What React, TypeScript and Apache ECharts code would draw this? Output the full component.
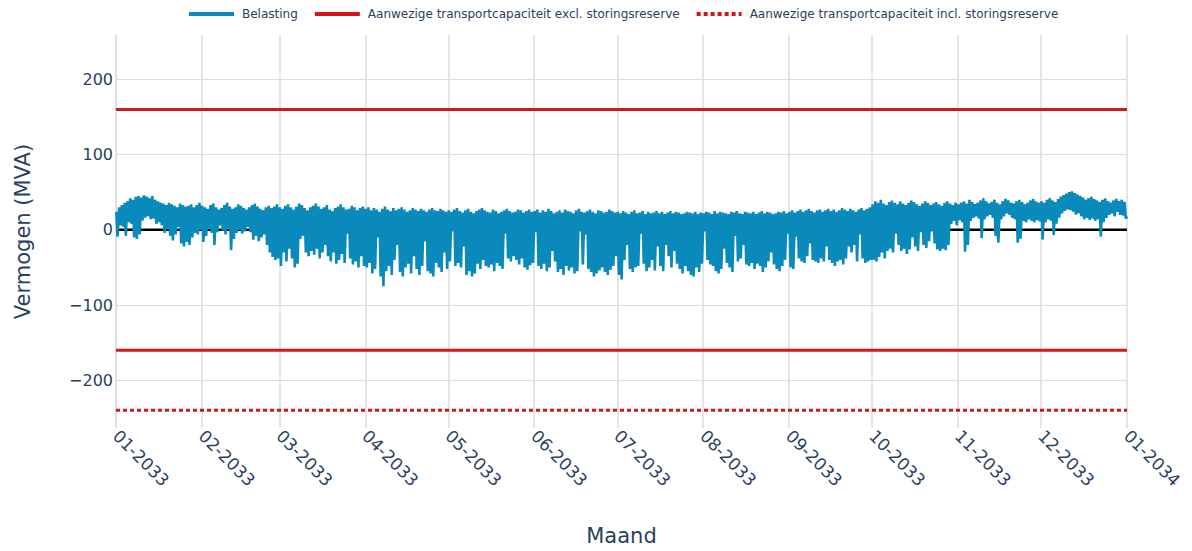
import React, { useEffect, useRef } from "react";
import * as echarts from "echarts";

// Daily maximum / minimum of the load (MVA)
const janMax = [24, 30, 33, 36, 38, 42, 40, 44, 45, 43, 46, 44, 42, 45, 40, 38, 36, 35, 33, 36, 34, 32, 30, 35, 33, 31, 32, 34, 30, 33, 36];
const janMin = [-9, 6, 4, -8, 10, 8, -10, -12, -6, 12, 16, 18, 14, 15, 8, 10, 6, -4, 2, -8, -14, -6, 4, -18, -22, -16, -20, -10, -4, -6, 0];
const febMax = [32, 30, 28, 33, 35, 30, 27, 29, 33, 36, 31, 28, 30, 34, 32, 29, 27, 30, 33, 35, 31, 28, 26, 30, 32, 29, 31, 34];
const febMin = [-16, -8, 2, -4, -20, -3, 6, -1, -6, 2, -27, -12, -4, 0, -5, -2, 4, -3, -13, -8, -15, -10, -6, -20, -30, -36, -40, -38];
const marMax = [30, 28, 32, 34, 30, 27, 31, 35, 33, 29, 26, 30, 32, 35, 31, 28, 30, 33, 27, 25, 29, 31, 34, 30, 27, 28, 32, 30, 26, 29, 31];
const marMin = [-48, -30, -42, -25, -38, -50, -45, -12, -8, -30, -35, -28, -33, -25, -38, -30, -20, -35, -42, -30, -45, -40, -32, -44, -5, -38, -46, -42, -50, -35, -48];
const aprMax = [28, 30, 26, 29, 27, 24, 28, 31, 27, 25, 29, 26, 28, 30, 27, 24, 26, 29, 27, 25, 28, 26, 24, 27, 29, 26, 25, 28, 26, 24];
const aprMin = [-50, -44, -58, -52, -10, -62, -75, -55, -48, -60, -40, -20, -56, -62, -50, -45, -58, -35, -52, -60, -48, -15, -55, -58, -62, -44, -50, -56, -30, -52];
const mayMax = [26, 24, 27, 29, 25, 23, 26, 28, 24, 22, 25, 27, 29, 26, 24, 23, 27, 25, 22, 24, 26, 28, 25, 23, 24, 27, 26, 23, 25, 27, 24];
const mayMin = [-42, -2, -48, -44, -50, -22, -60, -55, -62, -58, -45, -52, -40, -48, -50, -46, -55, -44, -48, -52, -5, -38, -42, -35, -40, -46, -38, -50, -53, -47, -44];
const junMax = [25, 27, 23, 26, 24, 28, 25, 22, 24, 26, 23, 27, 25, 24, 22, 26, 28, 24, 23, 25, 27, 24, 22, 26, 25, 23, 24, 27, 25, 23];
const junMin = [-3, -48, -52, -45, -55, -50, -28, -42, -56, -52, -60, -48, -54, -50, -58, -55, -2, -46, -6, -52, -56, -62, -58, -54, -50, -56, -60, -53, -48, -35];
const julMax = [24, 22, 25, 23, 21, 24, 26, 22, 23, 25, 21, 24, 22, 23, 25, 22, 24, 21, 23, 25, 22, 24, 23, 21, 22, 24, 23, 22, 24, 21, 23];
const julMin = [-60, -66, -40, -20, -52, -56, -50, -48, -5, -45, -55, -50, -40, -54, -22, -48, -55, -20, -35, -50, -28, -45, -52, -58, -48, -55, -60, -62, -50, -56, -45];
const augMax = [22, 24, 23, 21, 25, 22, 24, 23, 22, 21, 24, 23, 25, 22, 21, 24, 23, 22, 24, 21, 23, 25, 22, 24, 23, 21, 22, 24, 23, 25, 22];
const augMin = [-2, -40, -46, -48, -55, -58, -52, -25, -44, -50, -56, -8, -42, -38, -20, -46, -48, -44, -52, -45, -48, -56, -50, -42, -30, -46, -52, -55, -48, -40, -5];
const sepMax = [24, 26, 23, 25, 27, 24, 26, 28, 25, 23, 26, 27, 24, 26, 28, 25, 27, 24, 26, 29, 27, 25, 28, 26, 24, 27, 29, 26, 28, 30];
const sepMin = [-50, -52, -9, -38, -42, -44, -35, -18, -40, -42, -44, -38, -42, -22, -40, -44, -48, -42, -40, -46, -38, -22, -30, -20, -42, -6, -38, -44, -42, -40];
const octMax = [34, 38, 36, 40, 35, 33, 37, 39, 36, 34, 38, 35, 33, 36, 39, 37, 34, 32, 35, 38, 36, 33, 35, 37, 34, 32, 36, 38, 35, 33, 36];
const octMin = [-40, -42, -36, -30, -38, -28, -25, -30, -5, -20, -28, -25, -32, -26, -10, -22, -28, -3, -20, -24, -15, -2, -18, -26, -28, -25, -27, -20, 8, 12, 6];
const novMax = [34, 36, 38, 35, 40, 37, 34, 36, 39, 42, 38, 35, 37, 40, 36, 34, 38, 41, 39, 36, 35, 38, 40, 37, 34, 36, 39, 41, 38, 36];
const novMin = [13, 10, -29, -20, 12, 16, 18, 15, -11, 14, 18, 20, 16, -8, -17, 14, 18, 22, 20, 16, 14, -17, -12, 12, 10, 14, 12, 10, 13, 11];
const decMax = [38, 36, 40, 42, 39, 37, 41, 44, 46, 48, 50, 51, 49, 47, 45, 43, 40, 42, 44, 41, 39, 37, 40, 42, 38, 36, 39, 41, 38, 40, 37];
const decMin = [-13, 10, 14, 12, -7, 8, 16, 22, 25, 27, 26, 24, 20, 22, 18, 14, 16, 13, 15, 12, 14, -9, 10, 16, 20, 22, 18, 24, 20, 19, 15];
const lastValue = 18;

const capacityExcl = [160, -160];
const capacityIncl = [-240];
const zeroLine = [0];

const NAME_LOAD = "Belasting";
const NAME_EXCL = "Aanwezige transportcapaciteit excl. storingsreserve";
const NAME_INCL = "Aanwezige transportcapaciteit incl. storingsreserve";

const monthMaxes = [janMax, febMax, marMax, aprMax, mayMax, junMax, julMax, augMax, sepMax, octMax, novMax, decMax];
const monthMins = [janMin, febMin, marMin, aprMin, mayMin, junMin, julMin, augMin, sepMin, octMin, novMin, decMin];

const START = Date.UTC(2033, 0, 1);
const END = Date.UTC(2034, 0, 1);

const FONT = "DejaVu Sans, Verdana, sans-serif";
const TEXT = "#2a3f5f";
const BLUE = "#0a89bb";
const RED = "#d4161b";

export default function App() {
  const ref = useRef<HTMLDivElement>(null);

  useEffect(() => {
    document.body.style.margin = "0";
    if (!ref.current) return;
    const chart = echarts.init(ref.current, null, { renderer: "svg" });

    const load: [number, number][] = [];
    monthMaxes.forEach((arr, m) => {
      arr.forEach((v, d) => {
        load.push([Date.UTC(2033, m, d + 1, 3), v]);
        load.push([Date.UTC(2033, m, d + 1, 13), monthMins[m][d]]);
      });
    });
    load.push([END, lastValue]);

    const flat = (v: number) => [
      [START, v],
      [END, v],
    ];

    const option: any = {
      animation: false,
      useUTC: true,
      textStyle: { fontFamily: FONT },
      legend: {
        data: [NAME_LOAD, NAME_EXCL, NAME_INCL],
        left: 182,
        top: 3,
        itemWidth: 45,
        itemHeight: 14,
        itemGap: 15,
        itemStyle: { opacity: 0 },
        lineStyle: { width: 4 },
        textStyle: { fontSize: 12, color: TEXT, fontFamily: FONT, padding: [0, 0, 0, 3] },
      },
      grid: { left: 116, right: 65, top: 35, bottom: 122, containLabel: false },
      xAxis: {
        type: "time",
        min: START,
        max: END,
        splitNumber: 12,
        name: "Maand",
        nameLocation: "middle",
        nameGap: 97,
        nameTextStyle: { fontSize: 21, color: TEXT, fontFamily: FONT },
        axisLine: { show: false },
        axisTick: { show: false },
        splitLine: { show: true, lineStyle: { color: "#dcdcdc", width: 1.5 } },
        axisLabel: {
          rotate: -45,
          margin: 5,
          fontSize: 17,
          color: TEXT,
          fontFamily: FONT,
          showMinLabel: true,
          showMaxLabel: true,
          formatter: (v: number) => {
            const d = new Date(v);
            const mm = String(d.getUTCMonth() + 1).padStart(2, "0");
            return mm + "-" + d.getUTCFullYear();
          },
        },
      },
      yAxis: {
        type: "value",
        min: -263.5,
        max: 259,
        name: "Vermogen (MVA)",
        nameLocation: "middle",
        nameGap: 83,
        nameTextStyle: { fontSize: 21, color: TEXT, fontFamily: FONT },
        axisLine: { show: false },
        axisTick: { show: false },
        splitLine: { show: true, showMinLine: false, showMaxLine: false, lineStyle: { color: "#dcdcdc", width: 1 } },
        axisLabel: {
          showMinLabel: false,
          showMaxLabel: false,
          margin: 3,
          fontSize: 16,
          color: TEXT,
          fontFamily: FONT,
          formatter: (v: number) => (v < 0 ? "\u2212" + Math.abs(v) : String(v)),
        },
      },
      series: [
        {
          name: "zero",
          type: "line",
          data: flat(zeroLine[0]),
          symbol: "none",
          silent: true,
          lineStyle: { color: "#000000", width: 2.5 },
          z: 1,
        },
        {
          name: NAME_LOAD,
          type: "line",
          data: load,
          symbol: "none",
          lineStyle: { color: BLUE, width: 2.6 },
          itemStyle: { color: BLUE },
          z: 2,
        },
        ...capacityExcl.map((v) => ({
          name: NAME_EXCL,
          type: "line",
          data: flat(v),
          symbol: "none",
          lineStyle: { color: RED, width: 3 },
          itemStyle: { color: RED },
          z: 3,
        })),
        ...capacityIncl.map((v) => ({
          name: NAME_INCL,
          type: "line",
          data: flat(v),
          symbol: "none",
          lineStyle: { color: RED, width: 3, type: [4, 3] },
          itemStyle: { color: RED },
          z: 3,
        })),
      ],
    };

    chart.setOption(option);
    return () => chart.dispose();
  }, []);

  return <div ref={ref} style={{ width: 1192, height: 551 }} />;
}
